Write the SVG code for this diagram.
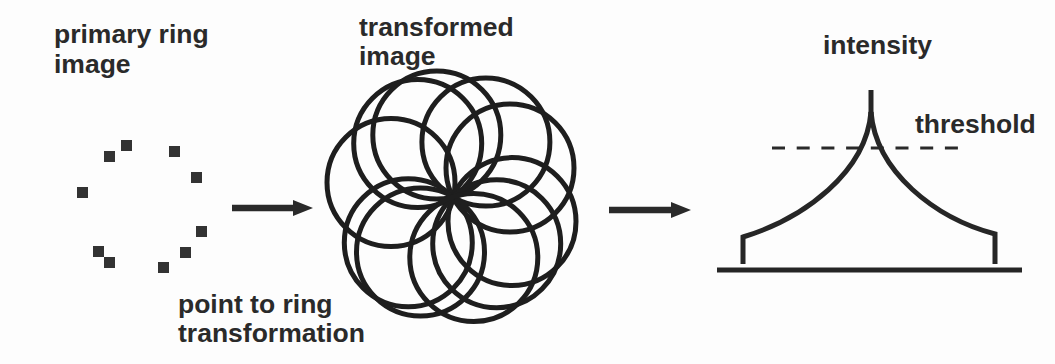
<svg xmlns="http://www.w3.org/2000/svg" width="1055" height="364" viewBox="0 0 1055 364">
<style>
.lbl{font-family:"Liberation Sans",Arial,sans-serif;font-weight:bold;font-size:26.5px;fill:#2a2a2a}
.sq{fill:#333}
.ring{fill:none;stroke:#1e1e1e;stroke-width:5}
.plot{fill:none;stroke:#262626;stroke-width:5}
.conn{stroke:#2a2a2a;stroke-width:6.5;fill:none}
</style>
<defs>
<marker id="arrow" markerUnits="userSpaceOnUse" viewBox="0 0 20 16" markerWidth="20" markerHeight="16" refX="5" refY="8" orient="auto">
<path d="M0,0 L20,8 L0,16 z" fill="#2a2a2a"/>
</marker>
</defs>
<rect width="1055" height="364" fill="#fdfdfd"/>
<g id="primary-ring-image">
<text class="lbl" x="54" y="43">primary ring</text>
<text class="lbl" x="54" y="73">image</text>
<rect class="sq" x="121" y="140" width="11" height="11"/>
<rect class="sq" x="104" y="151" width="11" height="11"/>
<rect class="sq" x="169" y="146" width="11" height="11"/>
<rect class="sq" x="191" y="172" width="11" height="11"/>
<rect class="sq" x="77" y="187" width="11" height="11"/>
<rect class="sq" x="196" y="226" width="11" height="11"/>
<rect class="sq" x="93" y="246" width="11" height="11"/>
<rect class="sq" x="104" y="257" width="11" height="11"/>
<rect class="sq" x="180" y="247" width="11" height="11"/>
<rect class="sq" x="158" y="262" width="11" height="11"/>
</g>
<g id="transformed-image">
<text class="lbl" x="359" y="36">transformed</text>
<text class="lbl" x="359" y="65">image</text>
<circle class="ring" cx="436.8" cy="135.1" r="64"/>
<circle class="ring" cx="417.7" cy="143.6" r="64"/>
<circle class="ring" cx="485.9" cy="142.1" r="64"/>
<circle class="ring" cx="510" cy="168" r="64"/>
<circle class="ring" cx="391" cy="182.5" r="64"/>
<circle class="ring" cx="512" cy="221.6" r="64"/>
<circle class="ring" cx="408.3" cy="242.8" r="64"/>
<circle class="ring" cx="420.5" cy="252.1" r="64"/>
<circle class="ring" cx="496.7" cy="243.7" r="64"/>
<circle class="ring" cx="473.8" cy="257.5" r="64"/>
</g>
<g id="point-to-ring-label">
<text class="lbl" x="178" y="313">point to ring</text>
<text class="lbl" x="178" y="342">transformation</text>
</g>
<g id="intensity-profile">
<text class="lbl" x="823" y="54">intensity</text>
<text class="lbl" x="915" y="133">threshold</text>
<line x1="772" y1="148" x2="958" y2="148" stroke="#2a2a2a" stroke-width="3" stroke-dasharray="13 11.7"/>
<line class="plot" x1="871" y1="90" x2="871" y2="118"/>
<path class="plot" d="M871,112 C866,172 805,218 743,237 L743,264"/>
<path class="plot" d="M871,112 C876,172 935,218 995,234 L995,264"/>
<line class="plot" x1="717" y1="270" x2="1022" y2="270"/>
</g>
<g id="connectors">
<line class="conn" x1="232" y1="208" x2="298" y2="208" marker-end="url(#arrow)"/>
<line class="conn" x1="609" y1="210" x2="676" y2="210" marker-end="url(#arrow)"/>
</g>
</svg>
